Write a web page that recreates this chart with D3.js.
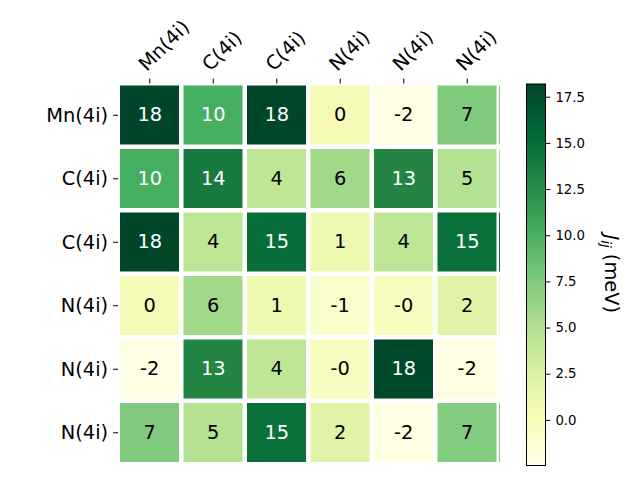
<!DOCTYPE html>
<html>
<head>
<meta charset="utf-8">
<script src="https://cdn.jsdelivr.net/npm/d3@7"></script>
<style>
  body { margin: 0; background: #fff; }
  svg { font-family: "DejaVu Sans", sans-serif; }
</style>
</head>
<body>
<div id="chart"></div>
<script>
//----------------------------
// Data
//----------------------------

var labels = ["Mn(4i)", "C(4i)", "C(4i)", "N(4i)", "N(4i)", "N(4i)"];

var row0 = [18.19, 10.2, 18.1, 0.3, -2.47, 7.4];
var row1 = [10.2, 13.9, 4.2, 5.8, 13.0, 4.8];
var row2 = [18.1, 4.2, 15.1, 1.0, 4.2, 14.9];
var row3 = [0.3, 5.8, 1.0, -1.0, -0.2, 2.0];
var row4 = [-2.47, 13.0, 4.2, -0.2, 18.0, -2.3];
var row5 = [7.4, 4.8, 14.9, 2.0, -2.3, 7.3];
var rows = [row0, row1, row2, row3, row4, row5];

var cbarTicks = [0.0, 2.5, 5.0, 7.5, 10.0, 12.5, 15.0, 17.5];

// matplotlib YlGn anchor colours
var ylgn = ["#ffffe5", "#f7fcb9", "#d9f0a3", "#addd8e", "#78c679",
            "#41ab5d", "#238443", "#006837", "#004529"];

function drawHeatmap() {

    //----------------------------
    // Layout
    //----------------------------

    var W = 640, H = 480;
    var mLeft = 118, mTop = 83.5, size = 381;
    var cbX = 526.5, cbW = 19, cbTop = 84, cbBot = 465.5;
    var fs = "19.4px";

    var svg = d3.select("#chart")
        .append("svg")
        .attr("width", W)
        .attr("height", H);

    var cells = [];
    rows.forEach(function (r, i) {
        r.forEach(function (v, j) {
            cells.push({ row: i, col: j, value: v });
        });
    });

    var ext = d3.extent(cells, d => d.value);
    var color = d3.scaleLinear()
        .domain(d3.range(ylgn.length).map(k => ext[0] + (ext[1] - ext[0]) * k / (ylgn.length - 1)))
        .range(ylgn)
        .interpolate(d3.interpolateRgb);

    var x = d3.scaleBand().domain(d3.range(labels.length)).range([mLeft, mLeft + size]);
    var y = d3.scaleBand().domain(d3.range(labels.length)).range([mTop, mTop + size]);

    // seaborn style text colour
    function lum(c) {
        var rgb = d3.rgb(c);
        var f = function (u) {
            u = u / 255;
            return u <= 0.03928 ? u / 12.92 : Math.pow((u + 0.055) / 1.055, 2.4);
        };
        return 0.2126 * f(rgb.r) + 0.7152 * f(rgb.g) + 0.0722 * f(rgb.b);
    }

    //----------------------------
    // Heatmap cells
    //----------------------------

    var g = svg.append("g");

    g.selectAll("rect.cell")
        .data(cells)
        .enter()
        .append("rect")
        .attr("class", "cell")
        .attr("x", d => x(d.col) + 2)
        .attr("y", d => y(d.row) + 2)
        .attr("width", x.bandwidth() - 4.5)
        .attr("height", y.bandwidth() - 4.5)
        .attr("fill", d => color(d.value));

    // thin sliver on right edge
    g.selectAll("rect.edge")
        .data(cells.filter(d => d.col === labels.length - 1))
        .enter()
        .append("rect")
        .attr("class", "edge")
        .attr("x", mLeft + size)
        .attr("y", d => y(d.row) + 2)
        .attr("width", 1)
        .attr("height", y.bandwidth() - 4.5)
        .attr("fill", d => color(d.value));

    g.selectAll("text.annot")
        .data(cells)
        .enter()
        .append("text")
        .attr("class", "annot")
        .attr("x", d => x(d.col) + x.bandwidth() / 2)
        .attr("y", d => y(d.row) + y.bandwidth() / 2)
        .attr("dy", "0.31em")
        .attr("text-anchor", "middle")
        .attr("font-size", fs)
        .attr("fill", d => lum(color(d.value)) > 0.408 ? "#000" : "#fff")
        .text(d => {
            var r = Math.round(d.value);
            return (r === 0 && d.value < 0) ? "-0" : String(r);
        });

    //----------------------------
    // Axes
    //----------------------------

    var xAxis = svg.append("g")
        .attr("transform", "translate(0," + mTop + ")")
        .call(d3.axisTop(x).tickSize(4.9).tickFormat(""));
    xAxis.select(".domain").remove();
    xAxis.selectAll("line").attr("stroke", "#000").attr("stroke-width", 1);

    svg.append("g")
        .selectAll("text")
        .data(labels)
        .enter()
        .append("text")
        .attr("transform", (d, i) => "translate(" + (x(i) + x.bandwidth() / 2 - 3) + "," + 72 + ") rotate(-45)")
        .attr("font-size", fs)
        .attr("fill", "#000")
        .text(d => d);

    var yAxis = svg.append("g")
        .attr("transform", "translate(" + mLeft + ",0)")
        .call(d3.axisLeft(y).tickSize(4.9).tickPadding(5).tickFormat(i => labels[i]));
    yAxis.select(".domain").remove();
    yAxis.selectAll("line").attr("stroke", "#000").attr("stroke-width", 1);
    yAxis.selectAll("text")
        .attr("font-size", fs)
        .attr("font-family", "DejaVu Sans")
        .attr("fill", "#000")
        .attr("dy", "0.33em");

    //----------------------------
    // Colour bar
    //----------------------------

    var cy = d3.scaleLinear().domain(ext).range([cbBot, cbTop]);

    var defs = svg.append("defs");
    var grad = defs.append("linearGradient")
        .attr("id", "cbgrad")
        .attr("x1", 0).attr("y1", 1)
        .attr("x2", 0).attr("y2", 0);
    grad.selectAll("stop")
        .data(ylgn)
        .enter()
        .append("stop")
        .attr("offset", (d, k) => (k / (ylgn.length - 1) * 100) + "%")
        .attr("stop-color", d => d);

    svg.append("rect")
        .attr("x", cbX)
        .attr("y", cbTop)
        .attr("width", cbW)
        .attr("height", cbBot - cbTop)
        .attr("fill", "url(#cbgrad)")
        .attr("stroke", "#000")
        .attr("stroke-width", 1);

    var cAxis = svg.append("g")
        .attr("transform", "translate(" + (cbX + cbW) + ",0)")
        .call(d3.axisRight(cy).tickValues(cbarTicks).tickSize(4.9).tickPadding(5).tickFormat(d3.format(".1f")));
    cAxis.select(".domain").remove();
    cAxis.selectAll("line").attr("stroke", "#000");
    cAxis.selectAll("text")
        .attr("font-size", "13.3px")
        .attr("font-family", "DejaVu Sans")
        .attr("fill", "#000");

    var lab = svg.append("text")
        .attr("transform", "translate(605," + ((cbTop + cbBot) / 2 - 1) + ") rotate(90)")
        .attr("text-anchor", "middle")
        .attr("font-size", fs)
        .attr("fill", "#000");
    lab.append("tspan").attr("font-style", "italic").text("J");
    lab.append("tspan").attr("font-style", "italic").attr("font-size", "13.5px").attr("dy", "4").text("ij");
    lab.append("tspan").attr("dy", "-4").text(" (meV)");
}

drawHeatmap();
</script>
</body>
</html>
